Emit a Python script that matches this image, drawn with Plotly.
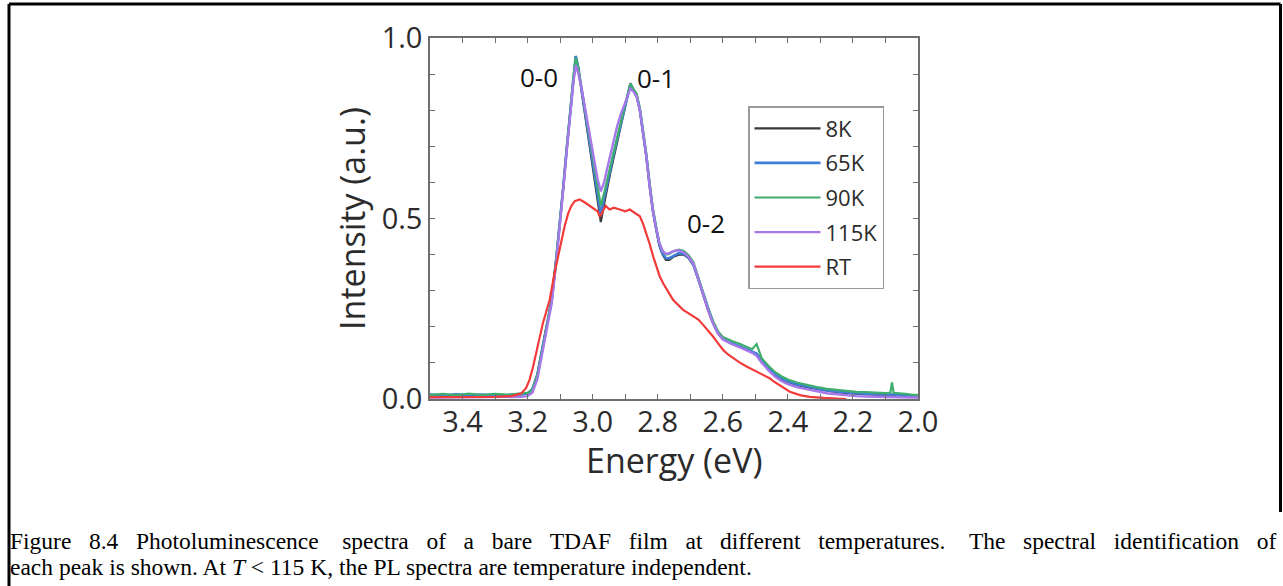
import plotly.graph_objects as go

# ---- photoluminescence spectra (energy in eV, normalised intensity) ----
energy_lt = [3.50, 3.46, 3.42, 3.38, 3.34, 3.30, 3.26, 3.22, 3.20, 3.185, 3.17, 3.155, 3.14, 3.126,
             3.112, 3.100, 3.090, 3.080, 3.070, 3.060, 3.052, 3.045, 3.035, 3.025, 3.015, 3.005,
             2.995, 2.985, 2.975, 2.965, 2.955, 2.945, 2.935, 2.925, 2.915, 2.905, 2.895, 2.884,
             2.875, 2.865, 2.855, 2.845, 2.835, 2.825, 2.815, 2.805, 2.795, 2.785, 2.775, 2.765,
             2.750, 2.735, 2.720, 2.705, 2.690, 2.675, 2.660, 2.645, 2.630, 2.615, 2.600, 2.585,
             2.570, 2.550, 2.530, 2.510, 2.496, 2.480, 2.460, 2.440, 2.420, 2.400, 2.370, 2.340,
             2.310, 2.280, 2.250, 2.220, 2.190, 2.160, 2.130, 2.100, 2.085, 2.080, 2.075, 2.060,
             2.040, 2.020, 2.000]

pl_8k = [0.010, 0.008, 0.011, 0.009, 0.010, 0.008, 0.010, 0.012, 0.014, 0.028, 0.068, 0.140, 0.205, 0.275,
         0.390, 0.490, 0.590, 0.690, 0.790, 0.890, 0.950, 0.920, 0.860, 0.800, 0.740, 0.680,
         0.620, 0.560, 0.490, 0.540, 0.590, 0.630, 0.670, 0.710, 0.750, 0.790, 0.830, 0.875,
         0.855, 0.840, 0.800, 0.740, 0.670, 0.590, 0.520, 0.470, 0.425, 0.400, 0.385, 0.385,
         0.395, 0.400, 0.400, 0.390, 0.370, 0.330, 0.285, 0.245, 0.210, 0.182, 0.166, 0.158,
         0.152, 0.146, 0.138, 0.130, 0.122, 0.105, 0.085, 0.068, 0.056, 0.047, 0.038, 0.032,
         0.027, 0.022, 0.019, 0.016, 0.014, 0.013, 0.011, 0.010, 0.010, 0.011, 0.010, 0.009,
         0.008, 0.007, 0.006]

pl_65k = [0.012, 0.010, 0.013, 0.011, 0.012, 0.010, 0.011, 0.013, 0.015, 0.027, 0.066, 0.138, 0.203, 0.273,
          0.388, 0.492, 0.592, 0.692, 0.792, 0.892, 0.950, 0.922, 0.864, 0.806, 0.748, 0.690,
          0.632, 0.574, 0.510, 0.556, 0.600, 0.640, 0.680, 0.718, 0.756, 0.794, 0.834, 0.872,
          0.856, 0.842, 0.802, 0.744, 0.674, 0.594, 0.524, 0.474, 0.428, 0.402, 0.390, 0.390,
          0.398, 0.404, 0.402, 0.392, 0.372, 0.332, 0.287, 0.247, 0.212, 0.184, 0.168, 0.160,
          0.154, 0.148, 0.140, 0.132, 0.126, 0.107, 0.087, 0.070, 0.058, 0.049, 0.040, 0.034,
          0.029, 0.024, 0.021, 0.018, 0.016, 0.015, 0.013, 0.012, 0.012, 0.013, 0.012, 0.011,
          0.010, 0.009, 0.008]

pl_90k = [0.011, 0.014, 0.010, 0.015, 0.011, 0.014, 0.012, 0.016, 0.017, 0.026, 0.064, 0.136, 0.201, 0.271,
          0.386, 0.490, 0.590, 0.690, 0.790, 0.888, 0.945, 0.920, 0.866, 0.810, 0.754, 0.698,
          0.642, 0.588, 0.535, 0.570, 0.610, 0.650, 0.690, 0.726, 0.762, 0.800, 0.838, 0.874,
          0.860, 0.846, 0.806, 0.748, 0.678, 0.598, 0.528, 0.478, 0.432, 0.410, 0.400, 0.402,
          0.410, 0.414, 0.410, 0.398, 0.378, 0.336, 0.291, 0.251, 0.216, 0.188, 0.172, 0.165,
          0.160, 0.154, 0.146, 0.138, 0.152, 0.112, 0.092, 0.075, 0.063, 0.054, 0.045, 0.038,
          0.033, 0.028, 0.025, 0.022, 0.020, 0.019, 0.017, 0.016, 0.018, 0.046, 0.017, 0.015,
          0.014, 0.012, 0.011]

pl_115k = [0.004, 0.004, 0.004, 0.004, 0.004, 0.004, 0.005, 0.006, 0.008, 0.018, 0.055, 0.125, 0.195, 0.265,
           0.378, 0.484, 0.584, 0.684, 0.782, 0.872, 0.925, 0.905, 0.865, 0.815, 0.760, 0.705,
           0.655, 0.610, 0.575, 0.600, 0.640, 0.680, 0.720, 0.755, 0.785, 0.810, 0.835, 0.860,
           0.852, 0.838, 0.800, 0.742, 0.672, 0.592, 0.522, 0.474, 0.432, 0.410, 0.402, 0.404,
           0.410, 0.412, 0.406, 0.394, 0.374, 0.332, 0.286, 0.246, 0.210, 0.182, 0.165, 0.157,
           0.151, 0.144, 0.136, 0.128, 0.120, 0.100, 0.080, 0.062, 0.050, 0.041, 0.032, 0.026,
           0.021, 0.016, 0.013, 0.010, 0.008, 0.007, 0.006, 0.005, 0.005, 0.005, 0.005, 0.004,
           0.004, 0.004, 0.004]

energy_rt = [3.50, 3.40, 3.30, 3.25, 3.219, 3.205, 3.194, 3.183, 3.173, 3.163, 3.153, 3.142, 3.132,
             3.117, 3.102, 3.086, 3.075, 3.066, 3.055, 3.040, 3.025, 3.009, 2.995, 2.985, 2.978,
             2.970, 2.960, 2.948, 2.935, 2.917, 2.900, 2.886, 2.870, 2.855, 2.845, 2.835, 2.825,
             2.814, 2.804, 2.794, 2.783, 2.773, 2.763, 2.753, 2.740, 2.722, 2.705, 2.691, 2.675,
             2.661, 2.645, 2.630, 2.615, 2.599, 2.585, 2.568, 2.550, 2.527, 2.500, 2.476, 2.455,
             2.446, 2.420, 2.394, 2.360, 2.332, 2.290, 2.250, 2.220]

pl_rt = [0.005, 0.005, 0.006, 0.008, 0.016, 0.030, 0.053, 0.090, 0.127, 0.170, 0.210, 0.245, 0.275,
         0.350, 0.414, 0.479, 0.515, 0.534, 0.548, 0.553, 0.545, 0.534, 0.525, 0.520, 0.505,
         0.520, 0.535, 0.525, 0.530, 0.525, 0.520, 0.525, 0.515, 0.506, 0.485, 0.460, 0.430,
         0.395, 0.365, 0.340, 0.320, 0.303, 0.290, 0.275, 0.262, 0.247, 0.237, 0.229, 0.220,
         0.206, 0.190, 0.173, 0.155, 0.136, 0.124, 0.113, 0.102, 0.090, 0.077, 0.067, 0.057,
         0.050, 0.035, 0.020, 0.010, 0.006, 0.003, 0.002, 0.000]

series_names = ["8K", "65K", "90K", "115K", "RT"]
series_colors = ["#3a3a3a", "#3f7fd6", "#3fae6c", "#a678ea", "#f23a3a"]
series_widths = [2.2, 2.6, 2.2, 2.4, 2.2]

peak_labels = ["0-0", "0-1", "0-2"]
peak_label_energy = [3.166, 2.806, 2.652]
peak_label_intensity = [0.893, 0.889, 0.488]

x_tick_vals = [3.5, 3.4, 3.3, 3.2, 3.1, 3.0, 2.9, 2.8, 2.7, 2.6, 2.5, 2.4, 2.3, 2.2, 2.1, 2.0]
x_tick_text = ["", "3.4", "", "3.2", "", "3.0", "", "2.8", "", "2.6", "", "2.4", "", "2.2", "", "2.0"]
y_tick_vals = [0.0, 0.1, 0.2, 0.3, 0.4, 0.5, 0.6, 0.7, 0.8, 0.9, 1.0]
y_tick_text = ["0.0", "", "", "", "", "0.5", "", "", "", "", "1.0"]

x_title = "Energy (eV)"
y_title = "Intensity (a.u.)"

caption_words1 = ["Figure", "8.4", "Photoluminescence", "spectra", "of", "a", "bare", "TDAF", "film",
                  "at", "different", "temperatures.", "The", "spectral", "identification", "of"]
caption_line2 = "each peak is shown. At <i>T</i> < 115 K, the PL spectra are temperature independent."

# ---- page geometry (pixels) ----
W, H = 1283, 586
PLOT_L, PLOT_R, PLOT_T, PLOT_B = 430, 918, 38, 399


def px(xp):
    return (xp - PLOT_L) / (PLOT_R - PLOT_L)


def py(yp):
    return (PLOT_B - yp) / (PLOT_B - PLOT_T)


FONT = "Open Sans"
TEXT = "#2b2b2b"
AXIS = "#6e6e6e"
NBSP = "\u00a0"

fig = go.Figure()
spectra = [(energy_lt, pl_8k), (energy_lt, pl_65k), (energy_lt, pl_90k), (energy_lt, pl_115k),
           (energy_rt, pl_rt)]
for i, (ex, ey) in enumerate(spectra):
    fig.add_trace(go.Scatter(
        x=ex, y=ey, mode="lines", name=series_names[i], legendgroup=series_names[i],
        line=dict(color=series_colors[i], width=series_widths[i]),
    ))

for lab, ex, ey in zip(peak_labels, peak_label_energy, peak_label_intensity):
    fig.add_annotation(x=ex, y=ey, text=lab, showarrow=False, xanchor="center", yanchor="middle",
                       font=dict(family=FONT, size=26, color="#111111"))

# x-axis title placed just under the tick labels
fig.add_annotation(xref="paper", yref="paper", x=0.5, y=py(460), text=x_title, showarrow=False,
                   xanchor="center", yanchor="middle", font=dict(family=FONT, size=34, color=TEXT))

# figure caption; the first line is spread to the full text width
gap_sizes = [3, 3, 4, 3, 3, 3, 3, 3, 3, 3, 3, 4, 3, 3, 3]
line1 = caption_words1[0]
for word, g in zip(caption_words1[1:], gap_sizes):
    line1 += " " + NBSP * (g - 1) + word
cap_font = dict(family="Liberation Serif", size=23.5, color="#000000")
fig.add_annotation(xref="paper", yref="paper", x=px(8), y=py(541), text=line1,
                   showarrow=False, xanchor="left", yanchor="middle", font=cap_font)
fig.add_annotation(xref="paper", yref="paper", x=px(8), y=py(567), text=caption_line2,
                   showarrow=False, xanchor="left", yanchor="middle", font=cap_font)

# frame around the whole figure
frame = dict(type="line", xref="paper", yref="paper", line=dict(color="#000000", width=3))
fig.add_shape(**frame, x0=px(9), y0=py(4), x1=px(1280.5), y1=py(4))
fig.add_shape(**frame, x0=px(9), y0=py(4), x1=px(9), y1=py(590))
fig.add_shape(**frame, x0=px(1280.5), y0=py(4), x1=px(1280.5), y1=py(512))

axis_common = dict(
    showline=True, linecolor=AXIS, linewidth=1.5, mirror="allticks",
    ticks="inside", ticklen=5, tickwidth=1.2, tickcolor=AXIS,
    showgrid=False, zeroline=False, tickmode="array",
    tickfont=dict(family=FONT, size=29, color=TEXT),
)

fig.update_layout(
    width=W, height=H, autosize=False,
    margin=dict(l=PLOT_L, r=W - PLOT_R, t=PLOT_T, b=H - PLOT_B, pad=0),
    paper_bgcolor="white", plot_bgcolor="white",
    xaxis=dict(range=[3.5, 2.0], tickvals=x_tick_vals, ticktext=x_tick_text,
               ticklabelstandoff=-4, **axis_common),
    yaxis=dict(range=[0, 1.0], tickvals=y_tick_vals, ticktext=y_tick_text,
               title=dict(text=y_title, font=dict(family=FONT, size=34, color=TEXT), standoff=6),
               **axis_common),
    legend=dict(x=px(748), y=py(106), xanchor="left", yanchor="top",
                bordercolor="#9a9a9a", borderwidth=1.5, bgcolor="white",
                font=dict(family=FONT, size=22, color=TEXT),
                itemwidth=66, tracegroupgap=3, traceorder="grouped"),
    showlegend=True,
)

fig.write_html("out.html")
